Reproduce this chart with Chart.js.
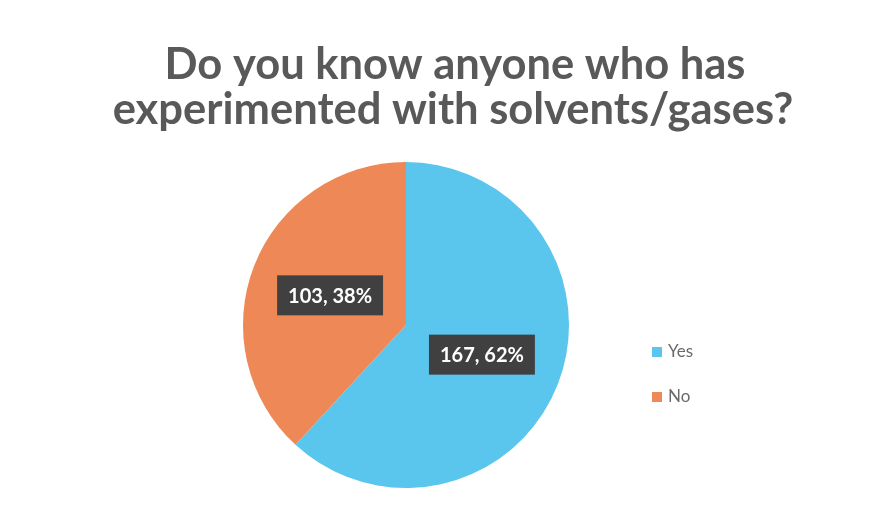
<!DOCTYPE html>
<html>
<head>
<meta charset="utf-8">
<script src="https://cdn.jsdelivr.net/npm/chart.js"></script>
<style>
  html, body { margin: 0; padding: 0; background: #ffffff; }
  #wrap { width: 884px; height: 506px; }
</style>
</head>
<body>
<div id="wrap"><canvas id="pieChart" width="884" height="506"></canvas></div>
<script>
// Chart data
const titleLines = ["Do you know anyone who has", "experimented with solvents/gases?"];
const categories = ["Yes", "No"];
const counts = [167, 103];
const sliceColors = ["#5ac6ee", "#ee8856"];

const FONT = "Lato, 'Open Sans', sans-serif";

// Title, legend and data labels drawn over the pie
const overlay = {
  id: "overlay",
  afterDatasetsDraw(chart) {
    const ctx = chart.ctx;
    const total = counts.reduce((a, b) => a + b, 0);
    ctx.save();

    // title
    ctx.fillStyle = "#595959";
    ctx.font = "bold 43.5px " + FONT;
    ctx.textAlign = "center";
    ctx.textBaseline = "middle";
    ctx.fillText(titleLines[0], 455, 65);
    ctx.fillText(titleLines[1], 453, 110);

    // labels inside slices
    const meta = chart.getDatasetMeta(0);
    ctx.font = "bold 20px " + FONT;
    meta.data.forEach((arc, i) => {
      const p = arc.getProps(["x", "y", "startAngle", "endAngle", "outerRadius"], true);
      const mid = (p.startAngle + p.endAngle) / 2;
      const r = p.outerRadius * 0.5;
      const x = p.x + Math.cos(mid) * r;
      const y = p.y + Math.sin(mid) * r;
      const txt = counts[i] + ", " + Math.round(counts[i] / total * 100) + "%";
      const w = ctx.measureText(txt).width + 22;
      ctx.fillStyle = "#404040";
      ctx.fillRect(x - w / 2, y - 20, w, 40);
      ctx.fillStyle = "#ffffff";
      ctx.fillText(txt, x, y + 1);
    });

    // legend
    ctx.font = "17px " + FONT;
    ctx.textAlign = "left";
    categories.forEach((c, i) => {
      const y = 352 + i * 45;
      ctx.fillStyle = sliceColors[i];
      ctx.fillRect(652, y - 5, 10, 10);
      ctx.fillStyle = "#6a6a6a";
      ctx.fillText(c, 668, y);
    });
    ctx.restore();
  }
};

function loadChart() {
  new Chart(document.getElementById("pieChart"), {
    type: "pie",
    data: {
      labels: categories,
      datasets: [{
        data: counts,
        backgroundColor: sliceColors,
        borderWidth: 0
      }]
    },
    options: {
      responsive: false,
      animation: false,
      layout: { padding: { top: 162, bottom: 18, left: 243, right: 315 } },
      plugins: {
        legend: { display: false },
        title: { display: false },
        tooltip: { enabled: false }
      }
    },
    plugins: [overlay]
  });
}

loadChart();
</script>
</body>
</html>
